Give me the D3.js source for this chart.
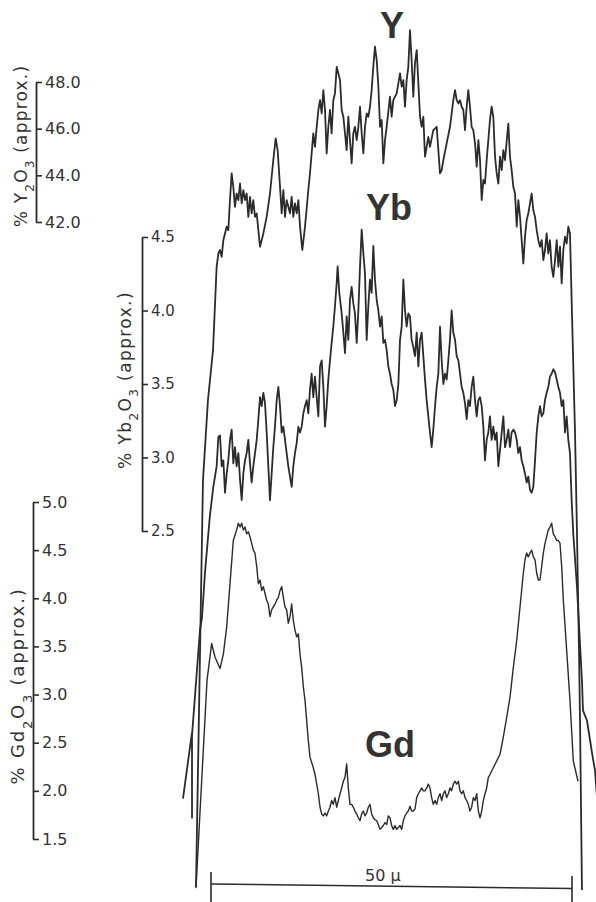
<!DOCTYPE html>
<html>
<head>
<meta charset="utf-8">
<script src="https://cdn.jsdelivr.net/npm/d3@7"></script>
<style>
html,body{margin:0;padding:0;background:#fff;}
svg{display:block;}
</style>
</head>
<body>
<script>
// tick values of the three concentration axes
var yTicks = [42, 44, 46, 48];
var ybTicks = [2.5, 3.0, 3.5, 4.0, 4.5];
var gdTicks = [1.5, 2.0, 2.5, 3.0, 3.5, 4.0, 4.5, 5.0];
var scaleBar = [0, 50];

// traces: [distance in µ, % oxide]
var yTrace = [[-2.08,13.50],[-1.11,30.94],[-0.42,34.37],[0.28,36.51],[0.78,40.08],[1.02,40.65],[1.25,40.80],[1.48,40.51],[1.71,41.22],[2.17,41.80],[2.40,41.65],[2.63,42.94],[2.86,44.08],[3.09,43.51],[3.32,42.65],[3.55,43.22],[3.79,42.94],[4.02,43.65],[4.25,42.80],[4.48,43.37],[4.71,42.94],[4.94,43.22],[5.17,42.22],[5.40,43.08],[5.63,42.37],[5.86,42.94],[6.09,42.22],[6.33,42.37],[6.79,40.94],[7.25,41.51],[7.71,42.22],[8.17,43.22],[8.63,44.65],[8.96,45.58],[9.23,45.08],[9.56,43.51],[9.79,42.37],[10.02,43.37],[10.25,42.22],[10.48,42.94],[10.94,42.37],[11.17,43.08],[11.40,42.22],[11.63,42.80],[11.87,42.37],[12.10,42.94],[12.33,41.80],[12.65,40.80],[13.02,41.80],[13.48,43.37],[13.71,44.08],[13.94,44.94],[14.17,45.80],[14.40,45.22],[14.64,46.08],[14.87,46.80],[15.10,47.22],[15.33,46.65],[15.56,47.65],[15.79,46.80],[16.02,44.94],[16.25,46.08],[16.48,46.80],[16.71,45.80],[16.94,47.22],[17.17,47.51],[17.41,48.65],[17.87,48.08],[18.10,46.80],[18.33,46.51],[18.56,45.80],[18.79,45.08],[19.02,46.51],[19.25,45.51],[19.48,44.51],[19.71,45.80],[19.94,46.08],[20.18,45.51],[20.41,46.08],[20.64,46.94],[20.87,45.80],[21.10,44.94],[21.33,46.08],[21.56,46.65],[21.79,46.51],[22.02,46.94],[22.25,47.65],[22.48,48.65],[22.71,49.51],[22.95,48.94],[23.18,47.80],[23.41,46.08],[23.64,46.37],[23.87,44.51],[24.10,45.51],[24.33,46.08],[24.79,47.37],[25.02,46.51],[25.25,47.22],[25.72,47.51],[25.95,47.94],[26.18,48.37],[26.41,47.80],[26.64,48.08],[26.87,46.94],[27.10,48.08],[27.33,48.65],[27.56,50.22],[27.79,48.94],[28.02,47.37],[28.25,48.80],[28.49,49.37],[28.72,47.94],[28.95,46.51],[29.18,46.08],[29.41,46.51],[29.64,44.80],[29.87,45.22],[30.10,45.65],[30.33,45.22],[30.79,45.94],[31.26,46.08],[31.49,45.08],[31.72,44.08],[31.95,44.22],[32.18,44.65],[32.64,45.37],[33.10,46.08],[33.56,47.22],[33.80,47.65],[34.03,47.22],[34.26,47.08],[34.49,47.22],[34.72,46.94],[34.95,46.80],[35.18,45.94],[35.41,46.94],[35.64,47.65],[35.87,46.94],[36.10,46.08],[36.33,45.94],[36.57,45.37],[36.80,44.37],[37.03,45.51],[37.26,44.65],[37.49,42.94],[37.72,43.80],[37.95,43.65],[38.18,44.65],[38.64,46.37],[38.87,46.94],[39.10,46.51],[39.34,44.80],[39.57,44.08],[39.80,43.65],[40.03,44.80],[40.26,44.22],[40.49,45.08],[40.72,44.65],[41.18,46.22],[41.41,44.80],[41.64,44.22],[41.87,43.51],[42.11,43.22],[42.34,41.80],[42.57,42.94],[42.80,42.22],[43.03,41.22],[43.26,40.22],[43.49,41.37],[43.72,42.08],[43.95,42.37],[44.41,43.22],[44.64,42.51],[44.88,42.22],[45.11,41.65],[45.34,41.22],[45.57,40.94],[45.80,41.22],[46.03,40.37],[46.26,40.80],[46.49,41.51],[46.72,40.65],[46.95,41.22],[47.18,40.08],[47.41,39.65],[47.65,40.37],[47.88,41.22],[48.11,40.08],[48.34,40.94],[48.57,39.37],[48.80,40.80],[49.03,41.37],[49.26,41.08],[49.49,41.80],[49.72,41.51],[49.95,38.65],[50.42,32.95],[50.69,28.67],[50.97,23.65],[51.11,20.65],[51.38,13.37]];

var ybTrace = [[-3.88,0.68],[-2.63,1.13],[-2.63,0.55],[-2.63,1.11],[-1.52,1.83],[-1.25,1.91],[-0.83,2.22],[-0.14,2.61],[0.32,2.80],[0.78,2.94],[1.02,3.14],[1.25,3.15],[1.48,2.94],[1.71,2.98],[1.94,2.76],[2.17,2.89],[2.40,2.98],[2.63,3.12],[2.86,3.19],[3.09,2.96],[3.32,3.07],[3.55,2.94],[3.79,3.03],[4.02,2.85],[4.25,2.71],[4.48,2.89],[4.71,2.98],[4.94,3.03],[5.17,3.12],[5.40,2.96],[5.63,2.83],[5.86,2.94],[6.33,3.12],[6.56,3.26],[6.79,3.41],[7.02,3.35],[7.25,3.44],[7.48,3.37],[7.71,3.17],[7.94,2.94],[8.17,2.71],[8.40,2.89],[8.63,3.07],[8.86,3.21],[9.10,3.39],[9.33,3.48],[9.56,3.35],[9.79,3.17],[10.02,3.21],[10.25,3.12],[10.48,3.03],[10.71,2.94],[10.94,2.87],[11.17,2.80],[11.40,2.94],[11.63,3.03],[11.87,3.10],[12.10,3.21],[12.33,3.17],[12.56,3.21],[12.79,3.30],[13.02,3.35],[13.25,3.39],[13.48,3.30],[13.71,3.46],[13.94,3.57],[14.17,3.41],[14.40,3.55],[14.64,3.41],[14.87,3.28],[15.10,3.62],[15.33,3.66],[15.56,3.48],[15.79,3.21],[16.02,3.35],[16.25,3.53],[16.48,3.66],[16.71,3.78],[16.94,3.89],[17.17,4.03],[17.41,4.19],[17.54,4.30],[17.77,4.12],[18.10,3.98],[18.33,3.85],[18.56,3.71],[18.79,3.96],[19.02,3.80],[19.25,4.07],[19.48,4.16],[19.71,4.05],[19.94,3.98],[20.18,3.78],[20.41,4.00],[20.64,4.30],[20.87,4.55],[21.10,4.39],[21.33,4.25],[21.56,3.80],[21.79,4.03],[22.02,4.21],[22.25,4.12],[22.48,4.44],[22.71,4.21],[22.95,4.07],[23.18,4.00],[23.41,3.89],[23.64,3.96],[23.87,3.78],[24.10,3.80],[24.33,3.73],[24.56,3.62],[24.79,3.57],[25.02,3.50],[25.25,3.46],[25.49,3.35],[25.72,3.39],[25.95,3.50],[26.18,3.80],[26.41,3.89],[26.64,4.21],[26.87,4.00],[27.10,3.89],[27.33,3.98],[27.56,3.96],[27.79,3.80],[28.02,3.75],[28.25,3.69],[28.49,3.85],[28.72,3.62],[28.95,3.80],[29.18,3.85],[29.41,3.69],[29.64,3.53],[29.87,3.39],[30.10,3.28],[30.33,3.17],[30.56,3.07],[30.79,3.19],[31.03,3.35],[31.26,3.48],[31.49,3.57],[31.72,3.89],[31.95,3.66],[32.18,3.50],[32.41,3.57],[32.64,3.53],[32.87,3.66],[33.10,3.80],[33.33,4.00],[33.56,3.85],[33.80,3.80],[34.03,3.69],[34.26,3.66],[34.49,3.57],[34.72,3.48],[34.95,3.44],[35.18,3.37],[35.41,3.26],[35.64,3.39],[35.87,3.35],[36.10,3.48],[36.33,3.55],[36.57,3.39],[36.80,3.28],[37.03,3.39],[37.26,3.41],[37.49,3.35],[37.72,3.21],[37.95,2.98],[38.18,3.12],[38.41,3.17],[38.64,3.28],[38.87,3.12],[39.10,3.21],[39.34,3.12],[39.57,3.17],[39.80,2.94],[40.03,3.05],[40.26,3.17],[40.49,3.28],[40.72,3.07],[40.95,3.12],[41.18,3.19],[41.41,3.07],[41.64,3.17],[41.87,3.19],[42.11,3.17],[42.34,3.12],[42.57,3.03],[42.80,3.07],[43.03,2.98],[43.26,2.94],[43.49,2.89],[43.72,2.83],[43.95,2.87],[44.18,2.78],[44.41,2.76],[44.64,2.80],[44.88,2.98],[45.11,3.17],[45.34,3.28],[45.57,3.35],[45.80,3.28],[46.03,3.30],[46.26,3.39],[46.49,3.44],[46.72,3.48],[46.95,3.55],[47.18,3.57],[47.41,3.60],[47.65,3.58],[47.88,3.53],[48.11,3.48],[48.34,3.44],[48.57,3.35],[48.80,3.39],[49.03,3.17],[49.26,3.28],[49.49,3.12],[49.72,3.03],[49.95,2.71],[50.18,2.48],[50.69,2.12],[51.39,1.47],[51.52,1.28],[52.08,1.21],[52.49,1.08],[52.77,0.99],[53.19,0.87],[53.46,0.69]];

var gdTrace = [[-2.08,0.99],[-0.55,3.15],[0.09,3.53],[0.55,3.39],[1.25,3.27],[1.71,3.42],[2.17,3.70],[2.63,4.15],[3.09,4.60],[3.55,4.71],[3.79,4.78],[4.02,4.74],[4.25,4.78],[4.48,4.71],[4.71,4.74],[4.94,4.67],[5.17,4.69],[5.40,4.64],[5.63,4.57],[5.86,4.50],[6.09,4.47],[6.33,4.33],[6.56,4.15],[6.79,4.19],[7.02,4.08],[7.25,4.12],[7.48,4.05],[7.71,3.98],[7.94,3.94],[8.17,3.81],[8.40,3.88],[8.63,3.91],[8.86,3.94],[9.10,3.98],[9.33,4.01],[9.56,4.08],[9.79,4.12],[10.02,4.01],[10.25,3.91],[10.48,3.88],[10.71,3.74],[10.94,3.81],[11.17,3.94],[11.40,3.77],[11.63,3.67],[11.87,3.60],[12.10,3.63],[12.33,3.42],[12.56,3.28],[12.79,3.08],[13.02,2.94],[13.25,2.73],[13.48,2.52],[13.71,2.35],[14.17,2.24],[14.40,2.17],[14.64,2.07],[14.87,1.97],[15.10,1.83],[15.33,1.76],[15.56,1.74],[15.79,1.77],[16.02,1.74],[16.25,1.79],[16.48,1.83],[16.71,1.90],[16.94,1.86],[17.17,1.93],[17.41,1.83],[17.64,1.90],[17.87,1.97],[18.10,2.03],[18.33,2.10],[18.56,2.14],[18.79,2.28],[19.02,2.03],[19.25,1.86],[19.48,1.86],[19.71,1.83],[19.94,1.79],[20.18,1.76],[20.41,1.72],[20.64,1.69],[20.87,1.76],[21.10,1.79],[21.33,1.74],[21.56,1.77],[21.79,1.83],[22.02,1.86],[22.25,1.76],[22.48,1.72],[22.71,1.70],[22.95,1.69],[23.18,1.65],[23.41,1.60],[23.64,1.62],[23.87,1.64],[24.10,1.67],[24.33,1.65],[24.56,1.74],[24.79,1.72],[25.02,1.64],[25.25,1.60],[25.49,1.64],[25.72,1.60],[25.95,1.62],[26.18,1.64],[26.41,1.60],[26.64,1.69],[26.87,1.74],[27.10,1.77],[27.33,1.79],[27.56,1.84],[27.79,1.79],[28.02,1.79],[28.25,1.81],[28.49,1.93],[28.72,1.97],[28.95,2.00],[29.18,2.03],[29.41,2.00],[29.64,2.00],[29.87,2.03],[30.10,2.07],[30.33,2.03],[30.56,1.93],[30.79,1.86],[31.03,1.90],[31.26,1.86],[31.49,1.93],[31.72,1.97],[31.95,1.90],[32.18,1.97],[32.41,2.00],[32.64,1.93],[32.87,1.97],[33.10,2.03],[33.33,2.00],[33.56,2.07],[33.80,2.10],[34.03,2.07],[34.26,2.10],[34.49,2.00],[34.72,1.97],[34.95,2.00],[35.18,1.93],[35.41,1.90],[35.64,1.86],[35.87,1.79],[36.10,1.83],[36.33,1.93],[36.57,1.90],[36.80,1.97],[37.03,1.79],[37.26,1.72],[37.49,1.79],[37.72,1.90],[37.95,1.97],[38.18,2.03],[38.41,2.14],[38.64,2.17],[39.10,2.24],[39.57,2.31],[40.03,2.38],[40.49,2.56],[40.95,2.76],[41.41,2.97],[41.87,3.28],[42.34,3.56],[42.80,3.91],[43.26,4.26],[43.49,4.40],[43.72,4.47],[43.95,4.43],[44.18,4.47],[44.41,4.50],[44.64,4.43],[44.88,4.40],[45.11,4.26],[45.34,4.19],[45.57,4.19],[45.80,4.33],[46.03,4.47],[46.26,4.57],[46.49,4.64],[46.72,4.71],[46.95,4.74],[47.18,4.78],[47.41,4.67],[47.65,4.64],[47.88,4.60],[48.11,4.60],[48.34,4.57],[48.57,4.33],[48.80,3.98],[49.26,3.46],[49.72,2.94],[50.18,2.31],[50.83,2.10]];

var W = 596, H = 902;
var ink = '#2b2b2b';
var svg = d3.select('body').append('svg')
    .attr('width', W)
    .attr('height', H)
    .style('font-family', '"DejaVu Sans", sans-serif');

var x = d3.scaleLinear().domain(scaleBar).range([211, 572]);
var yY = d3.scaleLinear().domain([42, 48]).range([222, 82]);
var yYb = d3.scaleLinear().domain([2.5, 4.5]).range([531, 237]);
var yGd = d3.scaleLinear().domain([1.5, 5.0]).range([839, 502]);

//axes: spine with ticks pointing right, like the original
function drawAxis(scale, ticks, left, fs) {
    var g = svg.append('g')
        .attr('transform', 'translate(' + left + ',0)')
        .call(d3.axisRight(scale)
            .tickValues(ticks)
            .tickFormat(d3.format('.1f'))
            .tickSize(6)
            .tickSizeOuter(0)
            .tickPadding(3));
    g.select('.domain').attr('stroke', ink).attr('stroke-width', 1.8);
    g.selectAll('.tick line').attr('stroke', ink).attr('stroke-width', 1.6);
    g.selectAll('.tick text')
        .attr('fill', '#333')
        .style('font-size', fs + 'px')
        .style('font-family', '"DejaVu Sans", sans-serif');
    return g;
}
drawAxis(yY, yTicks, 36, 16);
drawAxis(yYb, ybTicks, 142, 15);
drawAxis(yGd, gdTicks, 33, 16);

//rotated axis titles with subscripts
function axisTitle(cx, cy, el, fs, ls) {
    var t = svg.append('text')
        .attr('transform', 'translate(' + cx + ',' + cy + ') rotate(-90)')
        .attr('text-anchor', 'middle')
        .attr('fill', '#333')
        .style('font-size', fs + 'px')
        .style('letter-spacing', ls + 'px')
        .style('font-family', '"DejaVu Sans", sans-serif');
    var sub = Math.round(fs * 0.7) + 'px';
    t.append('tspan').text('% ' + el);
    t.append('tspan').attr('baseline-shift', 'sub').style('font-size', sub).text('2');
    t.append('tspan').text('O');
    t.append('tspan').attr('baseline-shift', 'sub').style('font-size', sub).text('3');
    t.append('tspan').text(' (approx.)');
}
axisTitle(27, 146, 'Y', 17, 1.2);
axisTitle(131, 380, 'Yb', 17, 1.4);
axisTitle(24, 686, 'Gd', 18, 1.8);

//the three traces
function trace(data, yScale, w) {
    svg.append('path')
        .datum(data)
        .attr('fill', 'none')
        .attr('stroke', ink)
        .attr('stroke-width', w)
        .attr('stroke-linejoin', 'round')
        .attr('d', d3.line()
            .x(function (d) { return x(d[0]); })
            .y(function (d) { return yScale(d[1]); }));
}
trace(yTrace, yY, 1.8);
trace(ybTrace, yYb, 1.8);
trace(gdTrace, yGd, 1.4);

//element labels
function label(txt, cx, by) {
    svg.append('text')
        .attr('x', cx)
        .attr('y', by)
        .attr('text-anchor', 'middle')
        .attr('fill', '#333')
        .style('font-family', '"Liberation Sans", Arial, sans-serif')
        .style('font-weight', 'bold')
        .style('font-size', '36px')
        .text(txt);
}
label('Y', 392, 38);
label('Yb', 389, 220);
label('Gd', 390, 757);

//50 µ scale bar
var bar = svg.append('g').attr('stroke', ink).attr('stroke-width', 1.6);
bar.append('line')
    .attr('x1', x(scaleBar[0])).attr('x2', x(scaleBar[1]))
    .attr('y1', 884).attr('y2', 888.5);
bar.append('line')
    .attr('x1', x(scaleBar[0])).attr('x2', x(scaleBar[0]))
    .attr('y1', 872).attr('y2', 902);
bar.append('line')
    .attr('x1', x(scaleBar[1])).attr('x2', x(scaleBar[1]))
    .attr('y1', 876).attr('y2', 902);
svg.append('text')
    .attr('x', x(23.8))
    .attr('y', 881)
    .attr('text-anchor', 'middle')
    .attr('fill', '#333')
    .style('font-size', '16px')
    .style('font-family', '"DejaVu Sans", sans-serif')
    .text((scaleBar[1] - scaleBar[0]) + ' \u00b5');
</script>
</body>
</html>
